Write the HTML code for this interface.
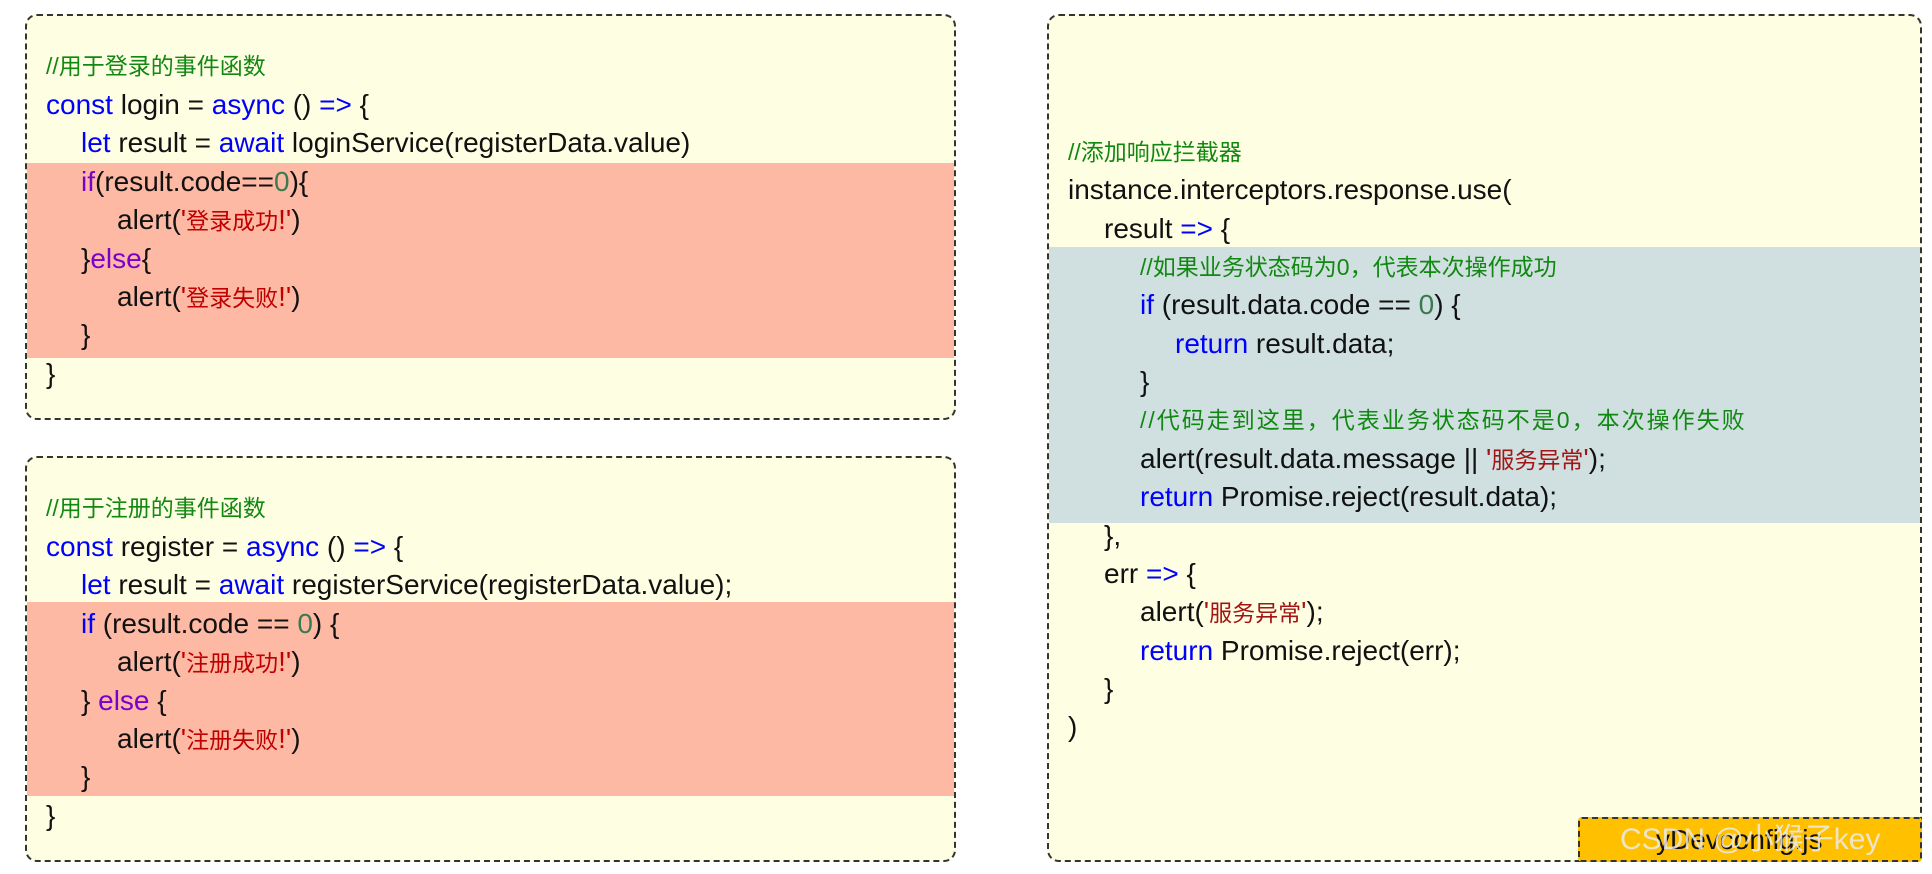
<!DOCTYPE html>
<html><head><meta charset="utf-8"><style>
body{margin:0;width:1932px;height:874px;background:#fff;position:relative;overflow:hidden;font-family:"Liberation Sans","Noto Sans CJK SC",sans-serif;font-size:28px;color:#111;}
.box{position:absolute;background:#fefee2;border:2px dashed #333;border-radius:12px;overflow:hidden;box-sizing:border-box;}
.hl{position:absolute;left:0;right:0;}
.l{position:absolute;white-space:pre;line-height:38px;height:38px;}
.z{font-size:23px;}
.c{color:#118811;font-size:23px}.k{color:#0000ff}.s{color:#c00000}.s2{color:#a31515}.n{color:#3a7a50}.p{color:#7a00cc}
</style></head><body>

<div class="box" style="left:25px;top:14px;width:931px;height:406px;">
<div class="hl" style="top:147px;height:195px;background:#fdb9a3"></div>
<div class="l c" style="left:19px;top:31px">//用于登录的事件函数</div>
<div class="l" style="left:19px;top:70px"><span class="k">const</span> login = <span class="k">async</span> () <span class="k">=&gt;</span> {</div>
<div class="l" style="left:54px;top:108px"><span class="k">let</span> result = <span class="k">await</span> loginService(registerData.value)</div>
<div class="l" style="left:54px;top:147px"><span class="p">if</span>(result.code==<span class="n">0</span>){</div>
<div class="l" style="left:90px;top:185px">alert(<span class="s">'<span class="z">登录成功</span>!'</span>)</div>
<div class="l" style="left:54px;top:224px">}<span class="p">else</span>{</div>
<div class="l" style="left:90px;top:262px">alert(<span class="s">'<span class="z">登录失败</span>!'</span>)</div>
<div class="l" style="left:54px;top:300px">}</div>
<div class="l" style="left:19px;top:339px">}</div>
</div>

<div class="box" style="left:25px;top:456px;width:931px;height:406px;">
<div class="hl" style="top:144px;height:194px;background:#fdb9a3"></div>
<div class="l c" style="left:19px;top:31px">//用于注册的事件函数</div>
<div class="l" style="left:19px;top:70px"><span class="k">const</span> register = <span class="k">async</span> () <span class="k">=&gt;</span> {</div>
<div class="l" style="left:54px;top:108px"><span class="k">let</span> result = <span class="k">await</span> registerService(registerData.value);</div>
<div class="l" style="left:54px;top:147px"><span class="k">if</span> (result.code == <span class="n">0</span>) {</div>
<div class="l" style="left:90px;top:185px">alert(<span class="s">'<span class="z">注册成功</span>!'</span>)</div>
<div class="l" style="left:54px;top:224px">} <span class="p">else</span> {</div>
<div class="l" style="left:90px;top:262px">alert(<span class="s">'<span class="z">注册失败</span>!'</span>)</div>
<div class="l" style="left:54px;top:300px">}</div>
<div class="l" style="left:19px;top:339px">}</div>
</div>

<div class="box" style="left:1047px;top:14px;width:875px;height:848px;">
<div class="hl" style="top:231px;height:276px;background:#d0e0e0"></div>
<div class="l c" style="left:19px;top:117px">//添加响应拦截器</div>
<div class="l" style="left:19px;top:155px">instance.interceptors.response.use(</div>
<div class="l" style="left:55px;top:194px">result <span class="k">=&gt;</span> {</div>
<div class="l c" style="left:91px;top:232px">//如果业务状态码为0，代表本次操作成功</div>
<div class="l" style="left:91px;top:270px"><span class="k">if</span> (result.data.code == <span class="n">0</span>) {</div>
<div class="l" style="left:126px;top:309px"><span class="k">return</span> result.data;</div>
<div class="l" style="left:91px;top:347px">}</div>
<div class="l c" style="left:91px;top:385px;letter-spacing:2px">//代码走到这里，代表业务状态码不是0，本次操作失败</div>
<div class="l" style="left:91px;top:424px">alert(result.data.message || <span class="s2">'<span class="z">服务异常</span>'</span>);</div>
<div class="l" style="left:91px;top:462px"><span class="k">return</span> Promise.reject(result.data);</div>
<div class="l" style="left:55px;top:501px">},</div>
<div class="l" style="left:55px;top:539px">err <span class="k">=&gt;</span> {</div>
<div class="l" style="left:91px;top:577px">alert(<span class="s2">'<span class="z">服务异常</span>'</span>);</div>
<div class="l" style="left:91px;top:616px"><span class="k">return</span> Promise.reject(err);</div>
<div class="l" style="left:55px;top:654px">}</div>
<div class="l" style="left:19px;top:692px">)</div>
</div>

<div style="position:absolute;left:1578px;top:817px;width:344px;height:45px;background:#ffc000;border:2px dashed #333;border-radius:4px;box-sizing:border-box;overflow:hidden;">
<div style="position:absolute;left:76px;top:4px;font-size:28px;line-height:34px;color:#111;white-space:pre">yDevconfig.js</div>
<div style="position:absolute;left:40px;top:4px;font-size:30px;line-height:34px;color:rgba(235,235,235,0.85);white-space:pre">CSDN @小猴子key</div>
</div>
</body></html>
